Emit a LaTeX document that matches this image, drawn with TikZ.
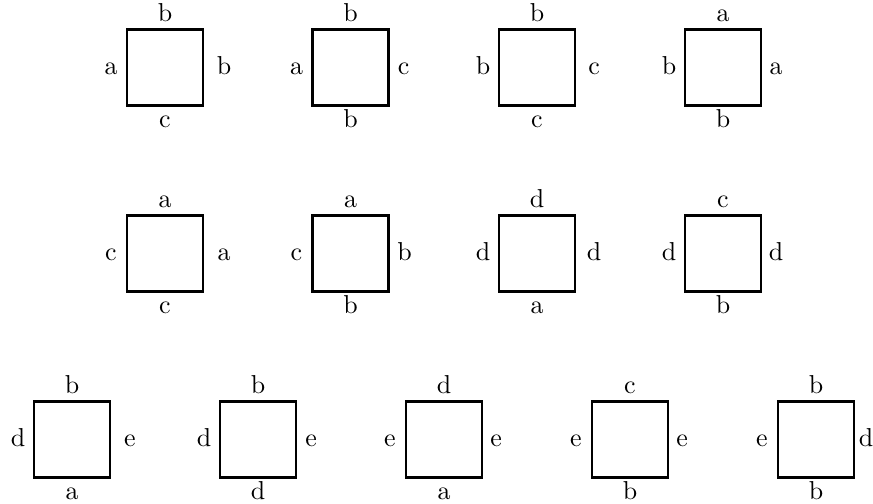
\documentclass[tikz,border=0pt]{standalone}
\usepackage{amsmath, amsfonts, amssymb}
\usetikzlibrary{positioning}
\usetikzlibrary{calc}

\begin{document}
\begin{tikzpicture}[x=0.01355cm, y=-0.01355cm,
    tile/.style={draw, line width=0.9pt, minimum size=1.03cm, inner sep=0pt, outer sep=0pt},
    lab/.style={anchor=base, inner sep=0pt}]

      \useasboundingbox (0, 0) rectangle (873, 504);

      \def\half{38} % half side of a tile, in pixels
      \def\toff{8} % baseline of the top label above the tile
      \def\boff{22} % baseline of the bottom label below the tile

      % name / centre x / centre y / top / left / right / bottom / gap of the right label
      \foreach \n/\cx/\cy/\t/\l/\r/\b/\rd in {
          11/165/67.5/b/a/b/c/21, 12/350.5/67.5/b/a/c/b/15,
          13/537/67.5/b/b/c/c/19, 14/723/67.5/a/b/a/b/15,
          21/165/253.5/a/c/a/c/21, 22/350.5/253.5/a/c/b/b/16,
          23/537/253.5/d/d/d/a/19, 24/723/253.5/c/d/d/b/15,
          31/72/439.5/b/d/e/a/20, 32/258/439.5/b/d/e/d/15,
          33/444/439.5/d/e/e/a/14, 34/630/439.5/c/e/e/b/14,
          35/816/439.5/b/e/d/b/12} {
        \node[tile] (s\n) at (\cx, \cy) {};

        \node[lab] (s\n-t) at ($(s\n.north) + (0, -\toff)$) {\t};
        \node[lab] (s\n-l) at ($(s\n.west) + (-16, 7)$) {\l};
        \node[lab] (s\n-r) at ($(s\n.east) + (\rd, 7)$) {\r};
        \node[lab] (s\n-b) at ($(s\n.south) + (0, \boff)$) {\b};
      }
    \end{tikzpicture}
\end{document}
